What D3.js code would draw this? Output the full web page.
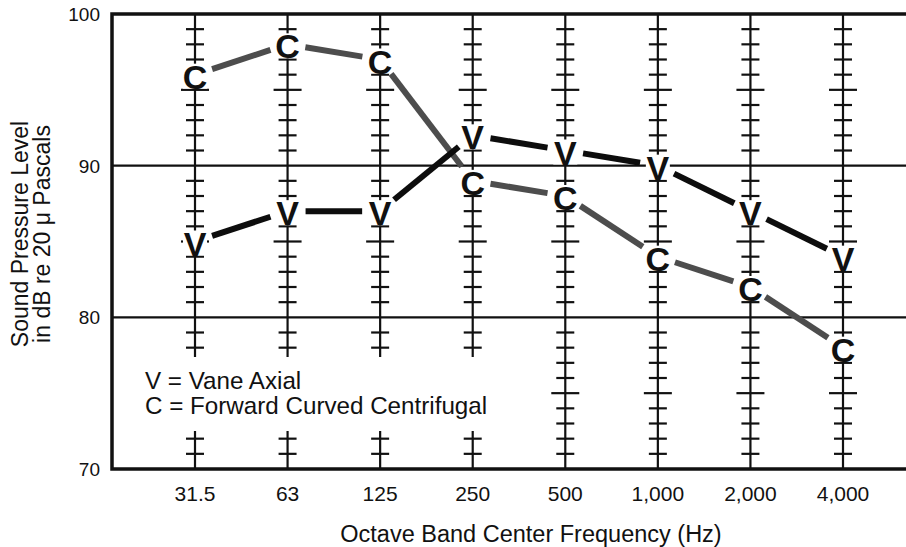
<!DOCTYPE html>
<html>
<head>
<meta charset="utf-8">
<script src="https://cdn.jsdelivr.net/npm/d3@7"></script>
<style>
	body{margin:0;background:#fff;}
	svg{display:block;}
</style>
</head>
<body>
<div id="chart"></div>
<script>
(function(){
	var W = 906, H = 547;
	var margin = {left:112, top:14, bottom:78};

	// データ
	var freqs = ["31.5","63","125","250","500","1,000","2,000","4,000"];
	var vaneAxial = [85,87,87,92,91,90,87,84];
	var fwdCurved = [96,98,97,89,88,84,82,78];
	var yTicks = [70,80,90,100];
	var legendLines = ["V = Vane Axial","C = Forward Curved Centrifugal"];

	var svg = d3.select("#chart").append("svg")
		.attr("width", W).attr("height", H);

	var x = d3.scalePoint().domain(freqs).range([195, 843]);
	var y = d3.scaleLinear().domain([70,100]).range([H-margin.bottom, margin.top]);

	var ink = "#111";
	var sans = "'Liberation Sans', Arial, sans-serif";
	var narrow = "'Liberation Sans Narrow', 'Arial Narrow', 'Liberation Sans', sans-serif";

	// 凡例 (先に描いて縦線の切れ目を決める)
	var legend = svg.append("g")
		.attr("font-family", sans)
		.attr("font-size", 24.2).attr("fill", ink);
	legend.selectAll("text").data(legendLines).enter().append("text")
		.attr("x", 145)
		.attr("y", function(d,i){ return 389 + i*25; })
		.text(function(d){ return d; });
	var lb = legend.node().getBBox();
	var gapLo = y.invert(lb.y + lb.height + 12), gapHi = y.invert(lb.y - 10);
	function inLegend(f){ var px = x(f); return px > lb.x - 15 && px < lb.x + lb.width + 15; }

	// 横線
	svg.selectAll("line.grid").data([80,90]).enter().append("line")
		.attr("x1", margin.left).attr("x2", W)
		.attr("y1", function(d){ return y(d); }).attr("y2", function(d){ return y(d); })
		.attr("stroke", ink).attr("stroke-width", 2.2);

	// 縦線と目盛り
	var minor = d3.range(71,100).filter(function(v){ return v%10 != 0; });
	freqs.forEach(function(f){
		var g = svg.append("g");
		var cut = inLegend(f);
		var segs = cut ? [[70,gapLo],[gapHi,100]] : [[70,100]];
		g.selectAll("line.v").data(segs).enter().append("line")
			.attr("x1", x(f)).attr("x2", x(f))
			.attr("y1", function(d){ return y(d[0]); }).attr("y2", function(d){ return y(d[1]); })
			.attr("stroke", ink).attr("stroke-width", 2.2);
		var ticks = minor.filter(function(v){ return !cut || v < gapLo || v > gapHi; });
		g.selectAll("line.t").data(ticks).enter().append("line")
			.attr("x1", function(v){ return x(f) - (v%5==0 ? 14 : 9); })
			.attr("x2", function(v){ return x(f) + (v%5==0 ? 14 : 9); })
			.attr("y1", function(v){ return y(v); }).attr("y2", function(v){ return y(v); })
			.attr("stroke", ink).attr("stroke-width", 2.2);
	});

	// 枠
	svg.append("path")
		.attr("d", "M" + W + "," + y(100) + "H" + margin.left + "V" + y(70) + "H" + W)
		.attr("fill","none").attr("stroke", ink).attr("stroke-width", 3.5);

	// 縦軸ラベル
	svg.selectAll("text.yl").data(yTicks).enter().append("text")
		.attr("x", 100).attr("y", function(d){ return y(d) + 7; })
		.attr("text-anchor","end")
		.attr("font-family", sans)
		.attr("font-size", 19).attr("fill", ink)
		.text(function(d){ return d; });

	// 横軸ラベル
	svg.selectAll("text.xl").data(freqs).enter().append("text")
		.attr("x", function(d){ return x(d); }).attr("y", y(70) + 32)
		.attr("text-anchor","middle")
		.attr("font-family", narrow)
		.attr("font-size", 21).attr("fill", ink)
		.text(function(d){ return d; });

	svg.append("text")
		.attr("x", 531).attr("y", 542)
		.attr("text-anchor","middle")
		.attr("font-family", narrow)
		.attr("font-size", 23.5).attr("fill", ink)
		.text("Octave Band Center Frequency (Hz)");

	var yt = svg.append("text")
		.attr("transform","translate(28,234) rotate(-90)")
		.attr("text-anchor","middle")
		.attr("font-family", sans)
		.attr("font-size", 23).attr("fill", ink);
	yt.append("tspan").attr("x",0).attr("dy",0).text("Sound Pressure Level");
	yt.append("tspan").attr("x",0).attr("dy",22).text("in dB re 20 \u03bc Pascals");

	// 系列
	var series = [
		{key:"C", values:fwdCurved, color:"#4d4d4d"},
		{key:"V", values:vaneAxial, color:"#0d0d0d"}
	];
	var GAP = 18;

	series.forEach(function(s){
		var pts = freqs.map(function(f,i){ return [x(f), y(s.values[i])]; });
		// 文字の下の白抜き
		svg.selectAll("rect.bg" + s.key).data(pts).enter().append("rect")
			.attr("x", function(p){ return p[0] - 12; })
			.attr("y", function(p){ return p[1] - 11; })
			.attr("width", 24).attr("height", 25)
			.attr("fill", "#fff");
		var segs = d3.pairs(pts).map(function(pr){
			var dx = pr[1][0]-pr[0][0], dy = pr[1][1]-pr[0][1];
			var len = Math.sqrt(dx*dx+dy*dy);
			var ux = dx/len, uy = dy/len;
			return [pr[0][0]+ux*GAP, pr[0][1]+uy*GAP, pr[1][0]-ux*GAP, pr[1][1]-uy*GAP];
		});
		svg.selectAll("line.s" + s.key).data(segs).enter().append("line")
			.attr("x1", function(d){ return d[0]; }).attr("y1", function(d){ return d[1]; })
			.attr("x2", function(d){ return d[2]; }).attr("y2", function(d){ return d[3]; })
			.attr("stroke", s.color).attr("stroke-width", 6);
	});

	series.forEach(function(s){
		svg.selectAll("text.m" + s.key).data(s.values).enter().append("text")
			.attr("x", function(d,i){ return x(freqs[i]); })
			.attr("y", function(d){ return y(d) + 14; })
			.attr("text-anchor","middle")
			.attr("font-family", narrow)
			.attr("font-weight","bold")
			.attr("font-size", 34).attr("fill", ink)
			.text(s.key);
	});
})();
</script>
</body>
</html>
